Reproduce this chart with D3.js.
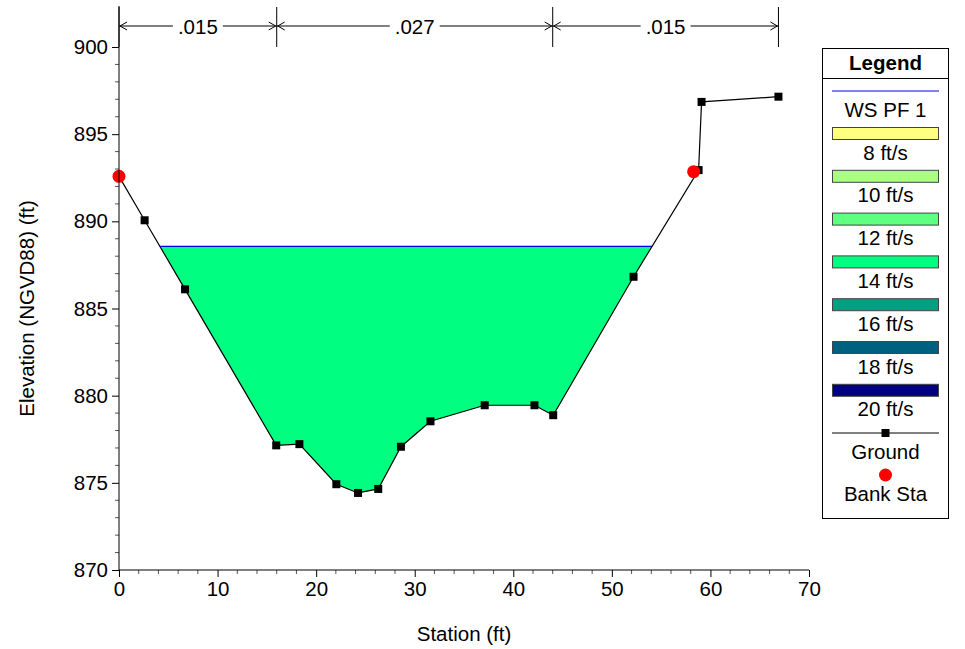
<!DOCTYPE html>
<html><head><meta charset="utf-8">
<script src="https://cdn.jsdelivr.net/npm/d3@7"></script>
<style>body{margin:0;background:#fff}svg{display:block;font-family:"Liberation Sans",Arial,sans-serif}</style>
</head><body><svg id="c" width="965" height="649"></svg>
<script>
// ---- data ----
const groundStation = [0, 2.6, 6.7, 15.95, 18.3, 22.05, 24.25, 26.3, 28.6, 31.6, 37.1, 42.15, 44.05, 52.2, 58.8, 59.1, 66.9];
const groundElev   = [892.58, 890.06, 886.1, 877.15, 877.22, 874.92, 874.42, 874.65, 877.07, 878.53, 879.45, 879.45, 878.88, 886.82, 892.94, 896.85, 897.15];
const bankStation = [0, 58.3];
const bankElev = [892.58, 892.85];
const wsElev = 888.56;
const nStations = [0, 16, 44, 66.9];
const nValues = [".015", ".027", ".015"];
const legendLabels = ["8 ft/s", "10 ft/s", "12 ft/s", "14 ft/s", "16 ft/s", "18 ft/s", "20 ft/s"];
const legendColors = ["#FFFF80", "#AAFF80", "#60FF80", "#00FF80", "#00A080", "#006080", "#000080"];
const xTicks = [0, 10, 20, 30, 40, 50, 60, 70];
const yTicks = [870, 875, 880, 885, 890, 895, 900];
const waterColor = "#00FF80";

const svg = d3.select("#c");
const x = d3.scaleLinear().domain([0, 70]).range([119, 809]);
const y = d3.scaleLinear().domain([870, 900]).range([570, 47]);
const FS = 20.5;

// ---- water polygon ----
const pts = groundStation.map((s, i) => [s, groundElev[i]]);
let poly = [];
for (let i = 0; i < pts.length - 1; i++) {
  const a = pts[i], b = pts[i + 1];
  if (a[1] <= wsElev) poly.push(a);
  if ((a[1] - wsElev) * (b[1] - wsElev) < 0) {
    const t = (wsElev - a[1]) / (b[1] - a[1]);
    poly.push([a[0] + t * (b[0] - a[0]), wsElev]);
  }
}
svg.append("path")
  .attr("d", d3.line().x(d => x(d[0])).y(d => y(d[1]))(poly) + "Z")
  .attr("fill", waterColor);
const wsL = poly[0][0], wsR = poly[poly.length - 1][0];
svg.append("line").attr("x1", x(wsL)).attr("x2", x(wsR)).attr("y1", y(wsElev)).attr("y2", y(wsElev))
  .attr("stroke", "#0000E0").attr("stroke-width", 1.3);

// ---- ground ----
svg.append("path").attr("d", d3.line().x(d => x(d[0])).y(d => y(d[1]))(pts))
  .attr("fill", "none").attr("stroke", "#000").attr("stroke-width", 1.2);
svg.selectAll(".gp").data(pts).join("rect")
  .attr("x", d => x(d[0]) - 4).attr("y", d => y(d[1]) - 4).attr("width", 8).attr("height", 8).attr("fill", "#000");
svg.selectAll(".bk").data(bankStation).join("circle")
  .attr("cx", d => x(d)).attr("cy", (d, i) => y(bankElev[i])).attr("r", 6.5).attr("fill", "#FF0000");

// ---- axes ----
const xAxis = d3.axisBottom(x).tickValues(xTicks).tickSize(7).tickPadding(4).tickFormat(d3.format("d"));
const gx = svg.append("g").attr("transform", "translate(0,570)").call(xAxis);
const yAxis = d3.axisLeft(y).tickValues(yTicks).tickSize(7).tickPadding(4).tickFormat(d3.format("d"));
const gy = svg.append("g").attr("transform", "translate(119,0)").call(yAxis);
[gx, gy].forEach(g => {
  g.select(".domain").remove();
  g.selectAll("text").attr("font-size", FS).attr("font-family", '"Liberation Sans",Arial,sans-serif').attr("fill", "#000");
  g.selectAll("line").attr("stroke", "#000");
});
// minor ticks
svg.append("g").selectAll("line").data(d3.range(0, 71, 2).filter(v => v % 10 !== 0)).join("line")
  .attr("x1", d => x(d)).attr("x2", d => x(d)).attr("y1", 570).attr("y2", 574).attr("stroke", "#555");
svg.append("g").selectAll("line").data(d3.range(870, 901, 1).filter(v => v % 5 !== 0)).join("line")
  .attr("x1", 119).attr("x2", 115).attr("y1", d => y(d)).attr("y2", d => y(d)).attr("stroke", "#555");
// axis lines
svg.append("line").attr("x1", 119).attr("x2", 119).attr("y1", 6).attr("y2", 570).attr("stroke", "#000");
svg.append("line").attr("x1", 119).attr("x2", x(70)).attr("y1", 570).attr("y2", 570).attr("stroke", "#000");

svg.append("text").attr("x", x(35)).attr("y", 641).attr("text-anchor", "middle").attr("font-size", 20.5).text("Station (ft)");
svg.append("text").attr("transform", `translate(34,${(47 + 570) / 2}) rotate(-90)`).attr("text-anchor", "middle")
  .attr("font-size", 20.5).text("Elevation (NGVD88) (ft)");

// ---- n values ----
const nY = 26;
const ng = svg.append("g");
nStations.forEach((s, i) => {
  ng.append("line").attr("x1", x(s)).attr("x2", x(s)).attr("y1", 7).attr("y2", 47).attr("stroke", "#000");
});
nValues.forEach((v, i) => {
  const x0 = x(nStations[i]), x1 = x(nStations[i + 1]), xm = (x0 + x1) / 2;
  const t = ng.append("text").attr("x", xm).attr("y", nY + 7.5).attr("text-anchor", "middle").attr("font-size", FS).text(v);
  const w = t.node().getComputedTextLength() / 2 + 5;
  ng.append("line").attr("x1", x0).attr("x2", xm - w).attr("y1", nY).attr("y2", nY).attr("stroke", "#000");
  ng.append("line").attr("x1", xm + w).attr("x2", x1).attr("y1", nY).attr("y2", nY).attr("stroke", "#000");
  ng.append("path").attr("d", `M${x0 + 8},${nY - 4}L${x0 + 1},${nY}L${x0 + 8},${nY + 4}`).attr("fill", "none").attr("stroke", "#000");
  ng.append("path").attr("d", `M${x1 - 8},${nY - 4}L${x1 - 1},${nY}L${x1 - 8},${nY + 4}`).attr("fill", "none").attr("stroke", "#000");
});

// ---- legend ----
const lg = svg.append("g");
lg.append("rect").attr("x", 822.5).attr("y", 48.5).attr("width", 126).attr("height", 470).attr("fill", "#fff").attr("stroke", "#000");
lg.append("line").attr("x1", 822.5).attr("x2", 948.5).attr("y1", 78.5).attr("y2", 78.5).attr("stroke", "#000");
const lcx = 885.5;
lg.append("text").attr("x", lcx).attr("y", 70).attr("text-anchor", "middle").attr("font-size", FS).attr("font-weight", "bold").text("Legend");
lg.append("line").attr("x1", 832).attr("x2", 939).attr("y1", 91).attr("y2", 91).attr("stroke", "#0000E0");
lg.append("text").attr("x", lcx).attr("y", 117).attr("text-anchor", "middle").attr("font-size", FS).text("WS PF 1");
legendLabels.forEach((l, i) => {
  const top = 127 + i * 42.8;
  lg.append("rect").attr("x", 832.5).attr("y", top + 0.5).attr("width", 106).attr("height", 12).attr("fill", legendColors[i]).attr("stroke", "#444");
  lg.append("text").attr("x", lcx).attr("y", top + 32.5).attr("text-anchor", "middle").attr("font-size", FS).text(l);
});
lg.append("line").attr("x1", 832).attr("x2", 939).attr("y1", 433).attr("y2", 433).attr("stroke", "#000");
lg.append("rect").attr("x", lcx - 4).attr("y", 429).attr("width", 8).attr("height", 8).attr("fill", "#000");
lg.append("text").attr("x", lcx).attr("y", 458.5).attr("text-anchor", "middle").attr("font-size", FS).text("Ground");
lg.append("circle").attr("cx", lcx).attr("cy", 475).attr("r", 6.5).attr("fill", "#FF0000");
lg.append("text").attr("x", lcx).attr("y", 500.5).attr("text-anchor", "middle").attr("font-size", FS).text("Bank Sta");
</script></body></html>
